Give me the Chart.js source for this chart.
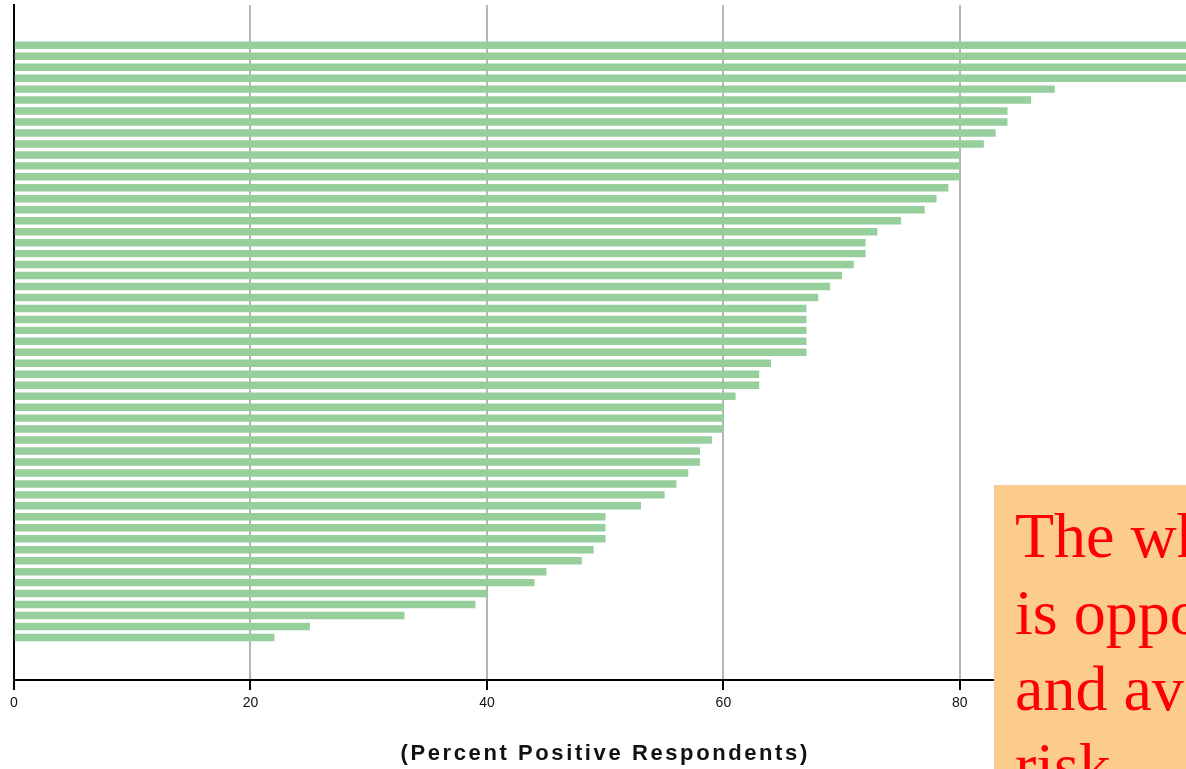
<!DOCTYPE html>
<html>
<head>
<meta charset="utf-8">
<script src="https://cdn.jsdelivr.net/npm/chart.js@4.4.1/dist/chart.umd.min.js"></script>
<style>
  html, body { margin: 0; padding: 0; background: #fff; overflow: hidden; width: 1186px; height: 769px; }
  /* chart runs a little past the right edge, like the cropped original */
  #wrap { position: absolute; left: 0; top: 0; width: 1213px; height: 769px; }
  #note {
    position: absolute; left: 994px; top: 485px; width: 560px; height: 320px;
    box-sizing: border-box; padding: 13px 0 0 21px;
    background: #fccb8e; color: #ff0000;
    font-family: 'Liberation Serif', serif; font-size: 64px; line-height: 76.5px;
    white-space: nowrap;
  }
</style>
</head>
<body>
<div id="wrap"><canvas id="chart"></canvas></div>
<div id="note">The white space<br>is opportunity<br>and avoidable<br>risk.</div>
<script>
// percent positive respondents, top bar first
const percentPositive = [
  100, 100, 100, 100, 88, 86, 84, 84, 83, 82,
  80, 80, 80, 79, 78, 77, 75, 73, 72, 72,
  71, 70, 69, 68, 67, 67, 67, 67, 67, 64,
  63, 63, 61, 60, 60, 60, 59, 58, 58, 57,
  56, 55, 53, 50, 50, 50, 49, 48, 45, 44,
  40, 39, 33, 25, 22
];
const units = percentPositive.map((_, i) => 'Unit ' + (i + 1));
const xTicks = [0, 20, 40, 60, 80, 100];
const axisTitle = '(Percent Positive Respondents)';

// widen the axis title a bit (title is drawn with the grid layer, labels after datasets)
const titleSpacing = {
  id: 'titleSpacing',
  beforeDraw(chart) { chart.ctx.letterSpacing = '2.6px'; },
  beforeDatasetsDraw(chart) { chart.ctx.letterSpacing = '0px'; }
};

const ctx = document.getElementById('chart').getContext('2d');

new Chart(ctx, {
  type: 'bar',
  data: {
    datasets: [{
      label: 'Percent positive',
      data: percentPositive.map((v, i) => ({ x: v, y: i })),
      backgroundColor: '#96ce9c',
      borderWidth: 0,
      barThickness: 6.8
    }]
  },
  options: {
    indexAxis: 'y',
    responsive: true,
    maintainAspectRatio: false,
    animation: false,
    layout: { padding: { left: 14, top: 5, right: 0, bottom: 0 } },
    plugins: {
      legend: { display: false },
      tooltip: {
        callbacks: {
          title(items) { return units[items[0].raw.y]; },
          label(item) { return item.raw.x + '%'; }
        }
      }
    },
    scales: {
      x: {
        type: 'linear',
        position: 'bottom',
        min: 0,
        max: 100,
        afterBuildTicks(scale) { scale.ticks = xTicks.map(v => ({ value: v })); },
        afterFit(scale) { scale.height = 89; },
        grid: { color: '#b5b5b5', lineWidth: 2, tickColor: '#000', tickLength: 10, tickWidth: 2 },
        border: { color: '#000', width: 2 },
        ticks: {
          z: 1,
          padding: 5,
          color: '#111',
          font: { family: 'Liberation Sans', size: 14 }
        },
        title: {
          display: true,
          text: axisTitle,
          color: '#111',
          font: { family: 'Liberation Sans', size: 22, weight: 'bold' },
          padding: { top: 2, bottom: 2 }
        }
      },
      y: {
        type: 'linear',
        reverse: true,
        offset: false,
        min: -3.67,
        max: 57.88,
        grid: { display: false, drawTicks: false, offset: false },
        ticks: { display: false },
        border: { color: '#000', width: 2 }
      }
    }
  },
  plugins: [titleSpacing]
});
</script>
</body>
</html>
